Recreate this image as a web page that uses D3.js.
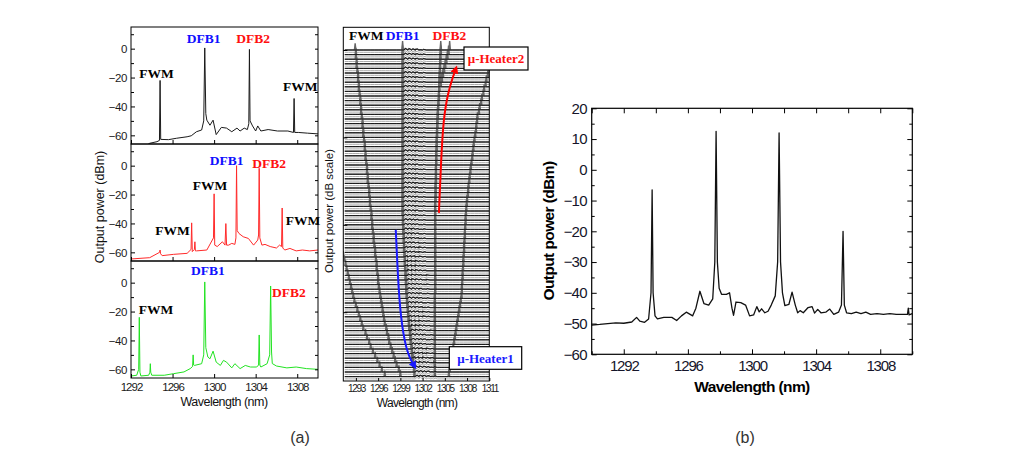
<!DOCTYPE html>
<html><head><meta charset="utf-8">
<script src="https://cdn.jsdelivr.net/npm/d3@7"></script>
<style>
body{margin:0;background:#fff;}
svg{display:block;}
text{font-family:Arial,"Liberation Sans",sans-serif;}
.lbl{font-family:"Times New Roman","Liberation Serif",serif;font-weight:bold;}
</style></head><body>
<svg id="c" width="1030" height="460"></svg>
<script>
// ---------- DATA ----------
// Panel (a) left: three spectra [wavelength nm, dBm]
const spectrumTop = [[1292,-69],[1293.5,-67],[1293.8,-65.5],[1294.5,-64.4],[1294.74,-63.5],[1294.8,-22],[1294.86,-62.8],[1295.6,-63],[1296.4,-62],[1297.4,-61],[1297.8,-60.3],[1298.3,-57.5],[1298.8,-56.3],[1299.0,-50],[1299.1,0.5],[1299.2,-45],[1299.3,-49.5],[1299.6,-53],[1299.9,-49.5],[1300.2,-59.5],[1300.7,-54.5],[1301.2,-55],[1301.7,-57.5],[1302.2,-55],[1302.5,-57],[1302.9,-55],[1303.2,-56],[1303.34,-52],[1303.4,-0.5],[1303.46,-50],[1303.7,-53.5],[1304.0,-57],[1304.2,-53.5],[1304.5,-57],[1305.2,-56],[1306.1,-57],[1307.1,-57],[1307.64,-58],[1307.7,-34.5],[1307.76,-58],[1308.1,-58],[1309,-58.5],[1310,-59]];
const spectrumMid = [[1292,-64.6],[1293.8,-63.7],[1294.75,-60],[1294.8,-58.4],[1294.85,-61],[1295.0,-62.3],[1296.1,-61.4],[1297.4,-60.7],[1297.78,-58],[1297.84,-39.6],[1297.9,-59.5],[1298.1,-58],[1298.15,-52.7],[1298.2,-59],[1298.3,-59],[1299.3,-58.4],[1299.94,-50],[1300.0,-19.5],[1300.06,-55],[1300.3,-56],[1300.8,-52.7],[1301.05,-55],[1301.13,-40.1],[1301.2,-55],[1301.4,-55],[1301.7,-53.8],[1302.0,-54.5],[1302.1,-50],[1302.16,0],[1302.22,-45],[1302.4,-47],[1302.8,-49.2],[1303.3,-50.4],[1303.8,-55],[1304.2,-51.5],[1304.28,-48],[1304.34,-1.8],[1304.4,-50],[1304.6,-55],[1304.9,-54.5],[1305.4,-56],[1306.0,-57],[1306.3,-55],[1306.49,-56],[1306.55,-29.3],[1306.61,-57],[1306.8,-58.4],[1307.3,-57.3],[1307.9,-59],[1308.5,-58.4],[1309.2,-59],[1310,-58.4]];
const spectrumBot = [[1292,-64.6],[1292.55,-64.1],[1292.74,-60],[1292.8,-24],[1292.86,-62],[1292.95,-64.6],[1293.7,-64.1],[1293.82,-62],[1293.86,-56.1],[1293.9,-62],[1294.0,-64.1],[1295.2,-64.1],[1296.1,-63],[1297.1,-61.8],[1297.7,-59.5],[1297.93,-58],[1297.98,-50],[1298.03,-57],[1298.1,-57.3],[1298.8,-56.1],[1299.0,-50],[1299.1,0.5],[1299.2,-45],[1299.4,-51.5],[1299.6,-52.7],[1299.9,-47.4],[1300.2,-55],[1300.6,-57.3],[1300.9,-53.8],[1301.2,-55],[1301.7,-59],[1302.0,-56.1],[1302.5,-59.5],[1303.0,-57.3],[1303.5,-58.4],[1304.1,-58.4],[1304.28,-57],[1304.34,-36.2],[1304.4,-57],[1304.5,-58.4],[1305.1,-56.1],[1305.35,-50],[1305.44,-2.3],[1305.53,-48],[1305.6,-56],[1306.0,-57.7],[1307.0,-59],[1307.9,-58.4],[1308.9,-59.5],[1310,-60]];
const leftXTicks = [1292,1296,1300,1304,1308];
const leftYTicks = [0,-20,-40,-60];
const leftYMinor = [10,-10,-30,-50];
// labels per left panel: [text, wavelength, dBm, color]
const labelsTop = [["DFB1",1299.0,3.9,"#1010ff"],["DFB2",1303.75,3.9,"#ff1010"],["FWM",1294.45,-20.3,"#000"],["FWM",1308.3,-29.3,"#000"]];
const labelsMid = [["FWM",1299.6,-16.8,"#000"],["DFB1",1301.2,0.5,"#1010ff"],["DFB2",1305.3,-1.6,"#ff1010"],["FWM",1296.0,-48.2,"#000"],["FWM",1308.55,-41.3,"#000"]];
const labelsBot = [["DFB1",1299.4,5.3,"#1010ff"],["FWM",1294.4,-21.7,"#000"],["DFB2",1307.2,-9.6,"#ff1010"]];

// Panel (a) waterfall: peak wavelength per trace (72 traces, top to bottom)
const wfFWM1 = [1292.9,1293.0,1293.0,1293.1,1293.1,1293.2,1293.3,1293.3,1293.4,1293.4,
 1293.5,1293.6,1293.6,1293.7,1293.7,1293.8,1293.9,1293.9,1294.0,1294.0,
 1294.1,1294.2,1294.2,1294.3,1294.3,1294.4,1294.5,1294.5,1294.6,1294.6,
 1294.7,1294.8,1294.8,1294.9,1294.9,1295.0,1295.1,1295.1,1295.2,1295.2,
 1295.3,1295.4,1295.4,1295.5,1295.6,1295.6,1295.7,1295.8,1295.8,1295.9,
 1296.0,1296.0,1296.1,1296.2,1296.3,1296.4,1296.5,1296.6,1296.7,1296.8,
 1296.9,1297.1,1297.2,1297.4,1297.5,1297.7,1297.9,1298.1,1298.3,1298.5,
 1298.8,1299.0];
const wfFWM2 = [null,null,null,null,null,null,null,null,null,null,
 null,null,null,null,null,null,null,null,null,null,
 null,null,null,null,null,null,null,null,null,null,
 null,null,null,null,null,null,null,null,null,null,
 null,null,null,null,null,1291.3,1291.45,1291.6,1291.75,1291.9,
 1292.05,1292.2,1292.35,1292.5,1292.65,1292.8,1293.0,1293.2,1293.4,1293.6,
 1293.8,1294.0,1294.3,1294.5,1294.8,1295.0,1295.3,1295.6,1295.9,1296.2,
 1296.5,1296.9];
const wfDFB1 = [1299.3,1299.3,1299.3,1299.3,1299.3,1299.3,1299.3,1299.3,1299.3,1299.3,
 1299.3,1299.3,1299.3,1299.3,1299.3,1299.3,1299.3,1299.3,1299.3,1299.3,
 1299.3,1299.3,1299.3,1299.3,1299.3,1299.3,1299.3,1299.3,1299.3,1299.3,
 1299.3,1299.3,1299.3,1299.3,1299.3,1299.3,1299.3,1299.35,1299.35,1299.4,
 1299.4,1299.45,1299.45,1299.5,1299.5,1299.55,1299.6,1299.6,1299.65,1299.7,
 1299.7,1299.75,1299.8,1299.8,1299.85,1299.9,1299.95,1300.0,1300.05,1300.1,
 1300.15,1300.2,1300.3,1300.35,1300.4,1300.5,1300.55,1300.6,1300.7,1300.75,
 1300.85,1300.9];
const wfDFB2 = [1304.45,1304.45,1304.4,1304.4,1304.35,1304.35,1304.3,1304.3,1304.25,1304.25,
 1304.2,1304.2,1304.15,1304.1,1304.05,1304.05,1304.0,1304.0,1303.95,1303.95,
 1303.9,1303.9,1303.9,1303.85,1303.85,1303.85,1303.8,1303.8,1303.8,1303.8,
 1303.75,1303.75,1303.75,1303.75,1303.7,1303.7,1303.7,1303.7,1303.7,1303.7,
 1303.7,1303.7,1303.7,1303.7,1303.7,1303.7,1303.7,1303.7,1303.7,1303.7,
 1303.7,1303.7,1303.7,1303.7,1303.65,1303.65,1303.65,1303.65,1303.65,1303.65,
 1303.65,1303.65,1303.65,1303.65,1303.65,1303.65,1303.65,1303.65,1303.65,1303.65,
 1303.65,1303.65];
const wfDFB2s = [1305.65,1305.5,1305.35,1305.2,1305.05,1304.9,1304.75,1304.6,1304.45,1304.3];
const wfFWM3 = [null,null,null,null,null,
 1310.9,1310.8,1310.6,1310.5,1310.3,1310.2,1310.0,1309.9,1309.7,1309.6,
 1309.4,1309.35,1309.25,1309.2,1309.1,1309.0,1308.9,1308.85,1308.75,1308.7,
 1308.6,1308.5,1308.45,1308.35,1308.3,1308.2,1308.15,1308.1,1308.0,1307.95,
 1307.9,1307.85,1307.8,1307.8,1307.75,1307.7,1307.7,1307.65,1307.6,1307.6,
 1307.55,1307.5,1307.5,1307.45,1307.4,1307.4,1307.35,1307.3,1307.3,1307.25,
 1307.15,1307.05,1306.95,1306.85,1306.75,1306.65,1306.55,1306.45,1306.35,1306.25,
 1306.15,1306.05,1305.95,1305.85,1305.75,1305.65,1305.55];
const wfFloor = -60;
const wfBumpOffset = [0.35,0.6,0.85,1.1,1.4,1.7,2.0,2.4,2.8];
const wfBumpDb = [-50,-56,-51,-55,-52,-56,-54,-58,-56];
const wfXTicks = [1293,1296,1299,1302,1305,1308,1311];

// Panel (b) spectrum
const spectrumB = [[1290.0,-50.5],[1290.5,-50.3],[1291.0,-50.0],[1291.5,-49.8],[1292.0,-49.9],[1292.5,-49.5],[1292.8,-48.0],[1293.0,-49.2],[1293.3,-49.6],[1293.55,-48.5],[1293.7,-40],[1293.77,-6.5],[1293.83,-40],[1293.95,-47.5],[1294.1,-48.5],[1294.5,-48.0],[1295.0,-48.0],[1295.3,-49.0],[1295.6,-47.5],[1295.9,-46.3],[1296.3,-47.5],[1296.5,-45],[1296.75,-39.5],[1297.0,-43.5],[1297.3,-44.0],[1297.55,-42],[1297.68,-30],[1297.76,12.5],[1297.84,-30],[1297.95,-38.5],[1298.1,-40.5],[1298.4,-40.5],[1298.6,-40],[1298.75,-45],[1298.85,-47.3],[1299.0,-43],[1299.3,-43.2],[1299.6,-44],[1299.85,-47.5],[1300.1,-47.2],[1300.3,-44.5],[1300.45,-46.2],[1300.6,-45.2],[1300.8,-46.5],[1301.0,-46.0],[1301.2,-44],[1301.45,-41],[1301.6,-30],[1301.69,12],[1301.78,-30],[1301.9,-40],[1302.05,-44.2],[1302.3,-43.8],[1302.5,-39.8],[1302.7,-44],[1302.85,-46.5],[1303.0,-45.8],[1303.2,-46.5],[1303.5,-44.8],[1303.75,-44.5],[1303.9,-46.6],[1304.1,-45.4],[1304.3,-46.5],[1304.6,-46.3],[1304.85,-45.3],[1305.1,-47],[1305.4,-46.3],[1305.58,-44],[1305.68,-20],[1305.76,-44],[1305.9,-46.5],[1306.2,-46.8],[1306.5,-46.3],[1306.8,-46.8],[1307.1,-46.3],[1307.4,-47],[1307.8,-46.8],[1308.2,-47],[1308.6,-46.8],[1309.0,-47],[1309.4,-47],[1309.7,-47],[1309.75,-45],[1309.8,-47.2],[1310.0,-46.8]];
const bYTicks = [-60,-50,-40,-30,-20,-10,0,10,20];
const bYMinor = [-55,-45,-35,-25,-15,-5,5,15];
const bXTicks = [1292,1296,1300,1304,1308];
const bXMinor = [1290,1294,1298,1302,1306,1310];

// ---------- DRAW ----------
const fmt = d3.format("d");
const svg = d3.select("#c");
const defs = svg.append("defs");
function marker(id, color){
  defs.append("marker").attr("id",id).attr("viewBox","0 0 10 10").attr("refX",6).attr("refY",5)
    .attr("markerWidth",4).attr("markerHeight",4).attr("orient","auto")
    .append("path").attr("d","M0,0L10,5L0,10z").attr("fill",color);
}
marker("ahR","#ff0000"); marker("ahB","#1a1aff");

function styleAxis(g, size, color, ls){
  g.select(".domain").remove();
  g.selectAll("line").attr("stroke","#000").attr("stroke-width",1);
  g.selectAll("text").attr("font-size",size).attr("fill",color||"#1b1b1b")
   .attr("letter-spacing",ls||0);
}

// ---- left stacked panels ----
const xL = d3.scaleLinear().domain([1292,1310]).range([131,318]);
const panelTops = [27,144,261];
const panelH = 117;
const spectra = [spectrumTop, spectrumMid, spectrumBot];
const colors = ["#1a1a1a","#ff2a2a","#22e322"];
const labelSets = [labelsTop, labelsMid, labelsBot];
panelTops.forEach((top,p)=>{
  const yS = d3.scaleLinear().domain([-66,15]).range([top+panelH, top]);
  const cid = "clipL"+p;
  defs.append("clipPath").attr("id",cid).append("rect")
    .attr("x",131).attr("y",top).attr("width",187).attr("height",panelH);
  const line = d3.line().x(d=>xL(d[0])).y(d=>yS(d[1]));
  svg.append("path").datum(spectra[p]).attr("d",line).attr("fill","none")
    .attr("stroke",colors[p]).attr("stroke-width",1).attr("clip-path",`url(#${cid})`);
  const gl = svg.append("g").attr("transform","translate(131,0)")
    .call(d3.axisLeft(yS).tickValues(leftYTicks).tickSize(-4).tickPadding(4).tickFormat(fmt));
  styleAxis(gl,"11.5px","#1b1b1b","-0.4px");
  const glm = svg.append("g").attr("transform","translate(131,0)")
    .call(d3.axisLeft(yS).tickValues(leftYMinor).tickSize(-3).tickFormat(""));
  styleAxis(glm);
  const gr = svg.append("g").attr("transform","translate(318,0)")
    .call(d3.axisRight(yS).tickValues(leftYTicks.concat(leftYMinor)).tickSize(-3).tickFormat(""));
  styleAxis(gr);
  const gb = svg.append("g").attr("transform",`translate(0,${top+panelH})`)
    .call(d3.axisBottom(xL).tickValues(leftXTicks).tickSize(-4).tickPadding(4.8)
      .tickFormat(p===2? fmt : ""));
  styleAxis(gb,"11.5px","#1b1b1b","-1px");
  svg.append("rect").attr("x",131).attr("y",top).attr("width",187).attr("height",panelH)
    .attr("fill","none").attr("stroke","#000").attr("stroke-width",1);
  svg.selectAll(null).data(labelSets[p]).enter().append("text").attr("class","lbl")
    .attr("x",d=>xL(d[1])).attr("y",d=>yS(d[2])).attr("text-anchor","middle")
    .attr("font-size","13.5px").attr("fill",d=>d[3]).text(d=>d[0]);
});
svg.append("text").attr("transform","translate(104,207) rotate(-90)").attr("text-anchor","middle")
  .attr("font-size","12.5px").attr("fill","#111").text("Output power  (dBm)");
svg.append("text").attr("x",224).attr("y",406).attr("text-anchor","middle")
  .attr("font-size","12.5px").attr("letter-spacing","-0.5px").attr("fill","#111").text("Wavelength (nm)");

// ---- waterfall ----
const xW = d3.scaleLinear().domain([1291.3,1311]).range([343.3,489.3]);
const nTr = wfFWM1.length;
const yRow = d3.scaleLinear().domain([0,nTr-1]).range([50,376.6]);
defs.append("clipPath").attr("id","clipW").append("rect")
  .attr("x",343.3).attr("y",27.3).attr("width",146).attr("height",353.7);
const wfLines = [{d:wfFWM1,pk:-15},{d:wfFWM2,pk:-20},{d:wfDFB1,pk:0},{d:wfDFB2,pk:0},{d:wfDFB2s,pk:0},{d:wfFWM3,pk:-15}];
const baseGrid = xW.ticks(40);
function tracePts(i, withSpikes){
  const spikes=[];
  wfLines.forEach(L=>{const v=L.d[i]; if(v!=null) spikes.push([v,L.pk]);});
  let pts = baseGrid.map(w=>[w,wfFloor]);
  wfBumpOffset.forEach((o,k)=>pts.push([wfDFB1[i]+o, wfBumpDb[k]]));
  if(withSpikes){
    pts = pts.filter(p=>spikes.every(s=>Math.abs(p[0]-s[0])>0.12));
    spikes.forEach(s=>{pts.push([s[0]-0.1,wfFloor],[s[0],s[1]],[s[0]+0.1,wfFloor]);});
  }
  pts.sort((a,b)=>a[0]-b[0]);
  return pts;
}
const gW = svg.append("g").attr("clip-path","url(#clipW)");
const traces = d3.range(nTr).map(i=>({i,full:tracePts(i,true),base:tracePts(i,false)}));
function traceLine(i){
  const yT = d3.scaleLinear().domain([wfFloor,0]).range([yRow(i), yRow(i)-9]);
  return d3.line().x(d=>xW(d[0])).y(d=>yT(d[1]));
}
gW.selectAll(".sh").data(traces).enter().append("path")
  .attr("d",t=>traceLine(t.i)(t.base)).attr("transform","translate(0,2.3)")
  .attr("fill","none").attr("stroke","#ababab").attr("stroke-width",1);
gW.selectAll(".sp").data(traces).enter().append("path")
  .attr("d",t=>traceLine(t.i)(t.full))
  .attr("fill","none").attr("stroke","#666").attr("stroke-width",1.4);
gW.selectAll(".tr").data(traces).enter().append("path")
  .attr("d",t=>traceLine(t.i)(t.base))
  .attr("fill","none").attr("stroke","#000").attr("stroke-width",0.8);
svg.append("rect").attr("x",343.3).attr("y",27.3).attr("width",146).attr("height",353.7)
  .attr("fill","none").attr("stroke","#000").attr("stroke-width",1);
const gwb = svg.append("g").attr("transform","translate(0,381)")
  .call(d3.axisBottom(xW).tickValues(wfXTicks).tickSize(-3).tickPadding(4.3).tickFormat(fmt));
styleAxis(gwb,"10px","#1b1b1b","-1.3px");
const gwl = svg.append("g").attr("transform","translate(343.3,0)")
  .call(d3.axisLeft(yRow).tickValues([0,19,38,57]).tickSize(-4).tickFormat(""));
styleAxis(gwl);
svg.append("text").attr("x",417).attr("y",407).attr("text-anchor","middle")
  .attr("font-size","12px").attr("letter-spacing","-0.7px").attr("fill","#111").text("Wavelength (nm)");
svg.append("text").attr("transform","translate(333,211) rotate(-90)").attr("text-anchor","middle")
  .attr("font-size","11.5px").attr("fill","#111").text("Output power (dB scale)");
const wfLabels = [["FWM",1294.4,"#000"],["DFB1",1299.3,"#1010ff"],["DFB2",1305.6,"#ff1010"]];
svg.selectAll(null).data(wfLabels).enter().append("text").attr("class","lbl")
  .attr("x",d=>xW(d[1])).attr("y",40).attr("text-anchor","middle")
  .attr("font-size","13.5px").attr("fill",d=>d[2]).text(d=>d[0]);
const arrowRed = [[1304.2,35.4],[1304.5,23.9],[1304.8,15.2],[1305.4,9.4],[1306.1,5.8],[1306.5,4.0]];
const arrowBlue = [[1298.38,39.1],[1298.56,45.6],[1298.92,56.5],[1299.59,63.8],[1300.26,67.0],[1300.93,68.8]];
const aLine = d3.line().curve(d3.curveBasis).x(d=>xW(d[0])).y(d=>yRow(d[1]));
svg.append("path").datum(arrowRed).attr("d",aLine).attr("fill","none").attr("stroke","#ff0000")
  .attr("stroke-width",2).attr("marker-end","url(#ahR)");
svg.append("path").datum(arrowBlue).attr("d",aLine).attr("fill","none").attr("stroke","#1a1aff")
  .attr("stroke-width",2).attr("marker-end","url(#ahB)");
const boxes = [{t:"\u03bc-Heater2",x:464,y:47,w:64,h:23,c:"#ff1010"},{t:"\u03bc-Heater1",x:449.3,y:346.7,w:72.4,h:22.6,c:"#1a1aff"}];
boxes.forEach(b=>{
  svg.append("rect").attr("x",b.x).attr("y",b.y).attr("width",b.w).attr("height",b.h)
    .attr("fill","#fff").attr("stroke","#000").attr("stroke-width",1.2);
  svg.append("text").attr("class","lbl").attr("x",b.x+b.w/2).attr("y",b.y+b.h/2+4.5)
    .attr("text-anchor","middle").attr("font-size","13px").attr("fill",b.c).text(b.t);
});

// ---- panel (b) ----
const xB = d3.scaleLinear().domain([1290,1310]).range([591.7,912.3]);
const yB = d3.scaleLinear().domain([-60,20]).range([354.3,108.3]);
svg.append("path").datum(spectrumB).attr("d",d3.line().x(d=>xB(d[0])).y(d=>yB(d[1])))
  .attr("fill","none").attr("stroke","#111").attr("stroke-width",1.3).attr("stroke-linejoin","round");
const bl = svg.append("g").attr("transform","translate(591.7,0)")
  .call(d3.axisLeft(yB).tickValues(bYTicks).tickSize(-5).tickPadding(5).tickFormat(fmt));
styleAxis(bl,"15px","#15152a","-0.8px");
const blm = svg.append("g").attr("transform","translate(591.7,0)")
  .call(d3.axisLeft(yB).tickValues(bYMinor).tickSize(-3).tickFormat(""));
styleAxis(blm);
const br = svg.append("g").attr("transform","translate(912.3,0)")
  .call(d3.axisRight(yB).tickValues(bYTicks).tickSize(-5).tickFormat(""));
styleAxis(br);
const brm = svg.append("g").attr("transform","translate(912.3,0)")
  .call(d3.axisRight(yB).tickValues(bYMinor).tickSize(-3).tickFormat(""));
styleAxis(brm);
const bb = svg.append("g").attr("transform","translate(0,354.3)")
  .call(d3.axisBottom(xB).tickValues(bXTicks).tickSize(-5).tickPadding(5.8).tickFormat(fmt));
styleAxis(bb,"15px","#15152a","-1.2px");
const bbm = svg.append("g").attr("transform","translate(0,354.3)")
  .call(d3.axisBottom(xB).tickValues(bXMinor).tickSize(-3).tickFormat(""));
styleAxis(bbm);
const bt = svg.append("g").attr("transform","translate(0,108.3)")
  .call(d3.axisTop(xB).tickValues(bXTicks.concat(bXMinor)).tickSize(-5).tickFormat(""));
styleAxis(bt);
svg.append("rect").attr("x",591.7).attr("y",108.3).attr("width",320.6).attr("height",246)
  .attr("fill","none").attr("stroke","#000").attr("stroke-width",1.2);
svg.append("text").attr("x",752).attr("y",392).attr("text-anchor","middle").attr("font-weight","bold")
  .attr("font-size","15.5px").attr("letter-spacing","-0.6px").attr("fill","#000").text("Wavelength (nm)");
svg.append("text").attr("transform","translate(554,231) rotate(-90)").attr("text-anchor","middle")
  .attr("font-weight","bold").attr("font-size","15.5px").attr("letter-spacing","-0.6px")
  .attr("fill","#000").text("Output power (dBm)");

// captions
svg.append("text").attr("x",300).attr("y",443).attr("text-anchor","middle")
  .attr("font-family","'Noto Sans CJK KR',sans-serif").attr("font-size","16px").attr("fill","#333").text("(a)");
svg.append("text").attr("x",745).attr("y",443).attr("text-anchor","middle")
  .attr("font-family","'Noto Sans CJK KR',sans-serif").attr("font-size","16px").attr("fill","#333").text("(b)");
</script>
</body></html>
